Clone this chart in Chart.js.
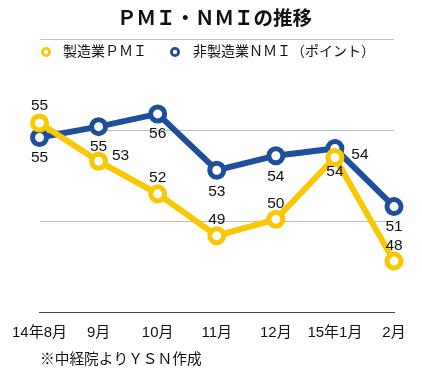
<!DOCTYPE html>
<html>
<head>
<meta charset="utf-8">
<script src="https://cdn.jsdelivr.net/npm/chart.js@4"></script>
<style>
html,body{margin:0;padding:0;background:#fff;}
#wrap{position:relative;width:422px;height:376px;}
</style>
</head>
<body>
<div id="wrap"><canvas id="c" width="422" height="376"></canvas></div>
<script>
// ---- data ----
const categories = ['14年8月', '9月', '10月', '11月', '12月', '15年1月', '2月'];
const pmiLabel = '製造業ＰＭＩ';
const nmiLabel = '非製造業ＮＭＩ（ポイント）';
const pmiValues = [55.4, 53.3, 51.5, 49.2, 50.1, 53.5, 47.8];
const nmiValues = [54.6, 55.2, 55.9, 52.8, 53.6, 54.0, 50.8];
const yTicks = [45, 50, 55, 60];
const titleText = 'ＰＭＩ・ＮＭＩの推移';
const noteText = '※中経院よりＹＳＮ作成';

// ---- styles ----
const YELLOW = '#fac800';
const BLUE = '#1f4e9b';
const FONT = "'Liberation Sans', 'Noto Sans CJK JP', sans-serif";
// label placement per point: [dx, dy]
const pmiPlace = [[0,-17],[22,-5],[0,-16],[0,-16],[0,-16],[0,14],[0,-15]];
const nmiPlace = [[0,20],[0,20],[0,20],[0,21],[0,21],[25,6],[0,20]];

const extras = {
  id: 'extras',
  afterDatasetsDraw(chart) {
    const ctx = chart.ctx;
    ctx.save();
    // data labels
    ctx.fillStyle = '#111';
    ctx.font = '15.5px ' + FONT;
    ctx.textAlign = 'center';
    ctx.textBaseline = 'middle';
    const places = [pmiPlace, nmiPlace];
    chart.data.datasets.forEach((ds, di) => {
      const meta = chart.getDatasetMeta(di);
      meta.data.forEach((pt, i) => {
        const p = places[di][i];
        ctx.fillText(String(Math.round(ds.data[i])), pt.x + p[0], pt.y + p[1]);
      });
    });
    // legend
    const items = [[46, 63, YELLOW, pmiLabel], [175, 193, BLUE, nmiLabel]];
    ctx.font = '14px ' + FONT;
    ctx.textAlign = 'left';
    items.forEach(it => {
      ctx.beginPath();
      ctx.arc(it[0], 52, 3.6, 0, Math.PI * 2);
      ctx.fillStyle = '#fff';
      ctx.fill();
      ctx.lineWidth = 2.8;
      ctx.strokeStyle = it[2];
      ctx.stroke();
      ctx.fillStyle = '#111';
      ctx.fillText(it[3], it[1], 52);
    });
    // footnote
    ctx.font = '14.7px ' + FONT;
    ctx.fillStyle = '#111';
    ctx.fillText(noteText, 40, 360);
    ctx.restore();
  }
};

new Chart(document.getElementById('c'), {
  type: 'line',
  data: {
    labels: categories,
    datasets: [
      {
        label: pmiLabel,
        data: pmiValues,
        borderColor: YELLOW,
        backgroundColor: '#fff',
        borderWidth: 6,
        pointRadius: 7,
        pointBorderWidth: 5,
        pointBackgroundColor: '#fff',
        pointBorderColor: YELLOW,
        tension: 0
      },
      {
        label: nmiLabel,
        data: nmiValues,
        borderColor: BLUE,
        backgroundColor: '#fff',
        borderWidth: 6,
        pointRadius: 7,
        pointBorderWidth: 5,
        pointBackgroundColor: '#fff',
        pointBorderColor: BLUE,
        tension: 0
      }
    ]
  },
  options: {
    responsive: false,
    animation: false,
    devicePixelRatio: 1,
    layout: { padding: { left: 35, right: 28, top: 0, bottom: 22 } },
    plugins: {
      legend: { display: false },
      tooltip: { enabled: false },
      title: {
        display: true,
        text: titleText,
        color: '#111',
        font: { family: FONT, size: 19.5, weight: 'bold' },
        padding: { top: 8, bottom: 8 }
      }
    },
    scales: {
      x: {
        offset: false,
        grid: { display: false, drawTicks: false },
        border: { display: true, color: '#444', width: 1 },
        ticks: { color: '#111', font: { family: FONT, size: 15 }, padding: 12, maxRotation: 0, autoSkip: false }
      },
      y: {
        min: yTicks[0],
        max: yTicks[yTicks.length - 1],
        afterBuildTicks(axis) { axis.ticks = yTicks.map(v => ({ value: v })); },
        ticks: { display: false },
        grid: { color: '#bdbdbd', lineWidth: 1, drawTicks: false },
        border: { display: false }
      }
    }
  },
  plugins: [extras]
});
</script>
</body>
</html>
